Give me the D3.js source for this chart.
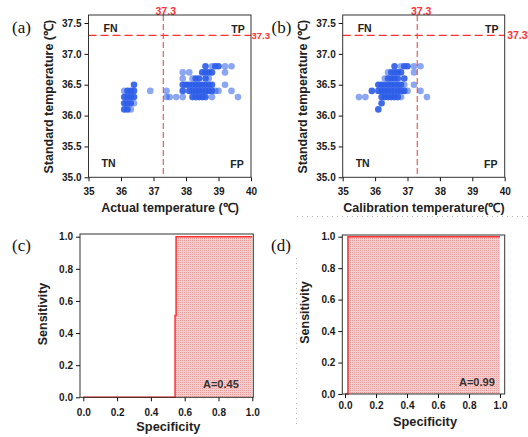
<!DOCTYPE html>
<html><head><meta charset="utf-8">
<script src="https://cdn.jsdelivr.net/npm/d3@7"></script>
<style>
body{margin:0;background:#fff}
svg{display:block}
</style>
</head><body>
<svg id="chart" width="528" height="437"></svg>
<script>
// ---------------- DATA ----------------
// Panel (a): actual temperature vs standard temperature (n = overlapping points)
const aActual = [36.1,36.2,36.3, 36.1,36.2,36.3,36.4,
  36.1,36.2,36.3,36.4,37.4,37.5,37.7,37.9,38.2,38.3,38.4,38.5,38.6,38.8,39.6,
  36.1,36.2,36.3,36.4,36.9,37.4,37.9,38.1,38.2,38.3,38.4,38.5,38.6,38.7,38.8,38.9,39.0,39.4,
  36.4,37.9,38.0,38.1,38.2,38.3,38.4,38.5,38.6,38.7,38.8,39.2,
  37.9,38.2,38.3,38.4,38.6,38.7,
  37.9,38.1,38.5,38.6,38.7,38.8,39.2,
  38.6,38.8,38.9,39.0,39.2,39.4];
const aStandard = [36.1,36.1,36.1, 36.2,36.2,36.2,36.2,
  36.3,36.3,36.3,36.3,36.3,36.3,36.3,36.3,36.3,36.3,36.3,36.3,36.3,36.3,36.3,
  36.4,36.4,36.4,36.4,36.4,36.4,36.4,36.4,36.4,36.4,36.4,36.4,36.4,36.4,36.4,36.4,36.4,36.4,
  36.5,36.5,36.5,36.5,36.5,36.5,36.5,36.5,36.5,36.5,36.5,36.5,
  36.6,36.6,36.6,36.6,36.6,36.6,
  36.7,36.7,36.7,36.7,36.7,36.7,36.7,
  36.8,36.8,36.8,36.8,36.8,36.8];
const aCount = [3,3,1, 3,3,3,1,
  3,3,3,3,1,1,1,1,3,3,3,3,3,1,1,
  1,3,3,3,1,1,3,3,3,3,3,3,3,3,3,1,1,1,
  3,3,3,3,3,3,3,3,3,3,3,1,
  1,1,3,3,3,1,
  1,1,3,3,3,3,1,
  3,1,3,3,1,1];

// Panel (b): calibration temperature vs standard temperature
const bCalib = [36.1, 36.2,
  35.5,35.7,36.2,36.3,36.4,36.5,36.6,36.7,36.8,37.6,
  35.9,36.1,36.2,36.3,36.4,36.5,36.6,36.7,36.8,36.9,37.0,37.4,
  36.1,36.2,36.3,36.4,36.5,36.6,36.7,36.8,36.9,37.2,
  36.3,36.4,36.5,36.6,36.7,36.9,
  36.4,36.5,36.6,36.7,36.8,37.2,
  36.6,36.8,36.9,37.0,37.2,37.4];
const bStandard = [36.1, 36.2,
  36.3,36.3,36.3,36.3,36.3,36.3,36.3,36.3,36.3,36.3,
  36.4,36.4,36.4,36.4,36.4,36.4,36.4,36.4,36.4,36.4,36.4,36.4,
  36.5,36.5,36.5,36.5,36.5,36.5,36.5,36.5,36.5,36.5,
  36.6,36.6,36.6,36.6,36.6,36.6,
  36.7,36.7,36.7,36.7,36.7,36.7,
  36.8,36.8,36.8,36.8,36.8,36.8];
const bCount = [3, 3,
  1,1,3,3,3,3,3,3,1,1,
  3,3,3,3,3,3,3,3,3,3,1,1,
  3,3,3,3,3,3,3,3,1,1,
  1,3,3,3,3,3,
  1,3,3,3,3,1,
  3,1,3,3,1,1];

const threshold = 37.3;
const tempXTicks = [35,36,37,38,39,40];
const tempYTicks = [35.0,35.5,36.0,36.5,37.0,37.5];
const quadrants = ["FN","TP","TN","FP"];

// Panels (c), (d): ROC-style step curves
const cSpec = [0, 0.543, 0.543, 0.549, 0.549, 1.0];
const cSens = [0, 0, 0.51, 0.51, 1, 1];
const dSpec = [0, 0.019, 0.019, 1.0];
const dSens = [0, 0, 1, 1];
const rocTicks = [0,0.2,0.4,0.6,0.8,1.0];
const areaLabels = ["A=0.45","A=0.99"];

// ---------------- DRAW ----------------
const svg = d3.select("#chart");
const SANS = '"Liberation Sans", Arial, sans-serif';
const SERIF = '"Liberation Serif", "Times New Roman", serif';
const RED = "#ff3030";

const defs = svg.append("defs");
const pat = defs.append("pattern").attr("id","dots").attr("patternUnits","userSpaceOnUse")
  .attr("width",2).attr("height",2);
pat.append("rect").attr("width",2).attr("height",2).attr("fill","#f8cdcd");
pat.append("rect").attr("width",1).attr("height",1).attr("fill","#e79c9c");

// faint dotted page guides
svg.append("line").attr("x1",297).attr("x2",528).attr("y1",216.5).attr("y2",216.5)
  .attr("stroke","#b8b8b8").attr("stroke-dasharray","1,4");
svg.append("line").attr("x1",296.5).attr("x2",296.5).attr("y1",258).attr("y2",424)
  .attr("stroke","#b8b8b8").attr("stroke-dasharray","1,4");

function styleAxis(g){
  g.select(".domain").remove();
  g.attr("font-family",SANS).attr("font-size",10).attr("font-weight","bold");
  g.selectAll("text").attr("fill","#1a1a1a");
  g.selectAll("line").attr("stroke","#111");
}

function scatterPanel(p){
  const x = d3.scaleLinear().domain([35,40]).range([p.left,p.right]);
  const y = d3.scaleLinear().domain([35,37.63]).range([p.bottom,p.top]);
  const g = svg.append("g");

  // points
  const pts = p.xs.map((v,i)=>({x:v,y:p.ys[i],n:p.ns[i]}));
  g.selectAll("circle").data(pts).join("circle")
    .attr("cx",d=>x(d.x)).attr("cy",d=>y(d.y)).attr("r",3.3)
    .attr("fill","#2c5ce8").attr("fill-opacity",d=>1-Math.pow(0.45,d.n));

  // threshold lines
  g.append("line").attr("x1",x(threshold)).attr("x2",x(threshold))
    .attr("y1",p.top).attr("y2",p.bottom)
    .attr("stroke",RED).attr("stroke-width",1).attr("stroke-dasharray","6,3");
  g.append("line").attr("x1",p.left).attr("x2",p.right)
    .attr("y1",y(threshold)).attr("y2",y(threshold))
    .attr("stroke",RED).attr("stroke-width",1.2).attr("stroke-dasharray","8,4");
  g.append("text").attr("x",x(threshold)+p.topLabDx).attr("y",p.top-0.5)
    .attr("text-anchor","middle").attr("font-family",SANS).attr("font-weight","bold")
    .attr("font-size",10.5).attr("fill",RED).text(threshold.toFixed(1));
  g.append("text").attr("x",p.right+p.sideLabDx).attr("y",y(threshold)+4)
    .attr("font-family",SANS).attr("font-weight","bold")
    .attr("font-size",p.sideLabSize).attr("fill",RED).text(threshold.toFixed(1));

  // frame
  g.append("rect").attr("x",p.left).attr("y",p.top).attr("width",p.right-p.left)
    .attr("height",p.bottom-p.top).attr("fill","none").attr("stroke","#333").attr("stroke-width",1);

  // axes
  const gx = g.append("g").attr("transform",`translate(0,${p.bottom})`)
    .call(d3.axisBottom(x).tickValues(tempXTicks).tickFormat(d3.format("d")).tickSize(4).tickPadding(7));
  styleAxis(gx);
  const gy = g.append("g").attr("transform",`translate(${p.left},0)`)
    .call(d3.axisLeft(y).tickValues(tempYTicks).tickFormat(d3.format(".1f")).tickSize(4).tickPadding(3));
  styleAxis(gy);

  // quadrant labels
  const qx = [p.left+22, p.right-13, p.left+20, p.right-14];
  const qy = [p.top+17, p.top+18, p.bottom-10.5, p.bottom-9.5];
  quadrants.forEach((q,i)=>{
    g.append("text").attr("x",qx[i]).attr("y",qy[i]).attr("text-anchor","middle")
      .attr("font-family",SANS).attr("font-weight","bold").attr("font-size",10.5)
      .attr("fill","#222").text(q);
  });

  // titles
  g.append("text").attr("x",p.xTitleX).attr("y",212).attr("text-anchor","middle")
    .attr("font-family",SANS).attr("font-weight","bold").attr("font-size",12.5)
    .attr("fill","#222").text(p.xTitle);
  g.append("text").attr("transform",`translate(${p.yTitleX},96.7) rotate(-90)`)
    .attr("text-anchor","middle").attr("font-family",SANS).attr("font-weight","bold")
    .attr("font-size",12.5).attr("fill","#222").text("Standard temperature (\u2103)");
  g.append("text").attr("x",p.labX).attr("y",33).attr("font-family",SERIF)
    .attr("font-size",17).attr("fill","#111").text(p.label);
}

scatterPanel({left:88.5,right:251,top:15,bottom:177.3,xs:aActual,ys:aStandard,ns:aCount,
  xTitle:"Actual temperature (\u2103)",xTitleX:170,yTitleX:52.5,label:"(a)",labX:12,
  topLabDx:2.5,sideLabDx:0.5,sideLabSize:9.5});
scatterPanel({left:342.7,right:504.7,top:15,bottom:177.3,xs:bCalib,ys:bStandard,ns:bCount,
  xTitle:"Calibration temperature(\u2103)",xTitleX:424,yTitleX:306.5,label:"(b)",labX:271.5,
  topLabDx:4,sideLabDx:2.5,sideLabSize:10.5});

function rocPanel(p){
  const x = d3.scaleLinear().domain([0,1]).range([p.x0,p.x1]);
  const y = d3.scaleLinear().domain([0,1]).range([p.y0,p.y1]);
  const g = svg.append("g");
  const pts = p.xs.map((v,i)=>[v,p.ys[i]]);
  g.append("path").datum(pts)
    .attr("d",d3.area().x(d=>x(d[0])).y0(y(0)).y1(d=>y(d[1])))
    .attr("fill","url(#dots)");
  g.append("path").datum(pts)
    .attr("d",d3.line().x(d=>x(d[0])).y(d=>y(d[1])))
    .attr("fill","none").attr("stroke",RED).attr("stroke-width",1.5);

  g.append("rect").attr("x",p.fl).attr("y",p.ft).attr("width",p.fr-p.fl)
    .attr("height",p.y0-p.ft).attr("fill","none").attr("stroke","#333").attr("stroke-width",1);

  const gx = g.append("g").attr("transform",`translate(0,${p.y0})`)
    .call(d3.axisBottom(x).tickValues(rocTicks).tickFormat(d3.format(".1f")).tickSize(4).tickPadding(p.xPad));
  styleAxis(gx);
  const gy = g.append("g").attr("transform",`translate(${p.fl},0)`)
    .call(d3.axisLeft(y).tickValues(rocTicks).tickFormat(d3.format(".1f")).tickSize(4).tickPadding(3));
  styleAxis(gy);

  g.append("text").attr("x",p.aX).attr("y",p.aY).attr("font-family",SANS)
    .attr("font-weight","bold").attr("font-size",11).attr("fill","#333").text(p.aText);
  g.append("text").attr("x",p.xtX).attr("y",p.xtY).attr("text-anchor","middle")
    .attr("font-family",SANS).attr("font-weight","bold").attr("font-size",12.8)
    .attr("fill","#222").text("Specificity");
  g.append("text").attr("transform",`translate(${p.ytX},${p.ytY}) rotate(-90)`)
    .attr("text-anchor","middle").attr("font-family",SANS).attr("font-weight","bold")
    .attr("font-size",12.5).attr("fill","#222").text("Sensitivity");
  g.append("text").attr("x",p.labX).attr("y",251).attr("font-family",SERIF)
    .attr("font-size",17).attr("fill","#111").text(p.label);
}

rocPanel({x0:83.3,x1:252.3,y0:397.3,y1:236.7,fl:80,fr:253.3,ft:234,xs:cSpec,ys:cSens,
  xPad:8,aText:areaLabels[0],aX:203,aY:388,xtX:168.3,xtY:431,ytX:46.5,ytY:314,label:"(c)",labX:12});
rocPanel({x0:345,x1:500,y0:394,y1:236.7,fl:342.3,fr:504.7,ft:235,xs:dSpec,ys:dSens,
  xPad:4,aText:areaLabels[1],aX:459,aY:386,xtX:425,xtY:425.5,ytX:309,ytY:312.5,label:"(d)",labX:271});
</script>
</body></html>
